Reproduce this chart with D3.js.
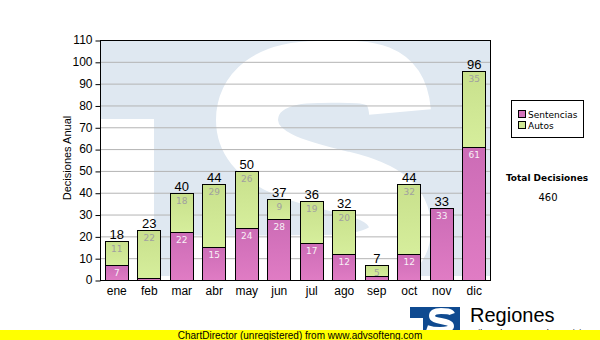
<!DOCTYPE html>
<html><head><meta charset="utf-8">
<script src="https://cdn.jsdelivr.net/npm/d3@7"></script>
<style>body{margin:0;background:#fff}svg{display:block}</style>
</head><body>
<svg id="c" width="600" height="340"></svg>
<script>
const months = ["ene","feb","mar","abr","may","jun","jul","ago","sep","oct","nov","dic"];
const sentencias = [7,1,22,15,24,28,17,12,2,12,33,61];
const autos = [11,22,18,29,26,9,19,20,5,32,0,35];
const yTicks = [0,10,20,30,40,50,60,70,80,90,100,110];
const seriesNames = ["Sentencias","Autos"];

const svg = d3.select("#c");
const L=100,R=490,T=40,B=280;
const x = d3.scaleBand().domain(months).range([L,R]).paddingInner(0.28).paddingOuter(0.14);
const y = d3.scaleLinear().domain([0,110]).range([B,T]);

const defs = svg.append("defs");
function grad(id,c1,c2){
  const g=defs.append("linearGradient").attr("id",id).attr("x1",0).attr("y1",0).attr("x2",0).attr("y2",1);
  g.append("stop").attr("offset","0%").attr("stop-color",c1);
  g.append("stop").attr("offset","100%").attr("stop-color",c2);
}
grad("gP","#cc6cb6","#e07cc4");
grad("gG","#c8e08c","#d6ee9c");
defs.append("clipPath").attr("id","plotclip").append("rect").attr("x",L).attr("y",T).attr("width",R-L).attr("height",B-T);

// watermark (logo drawn as shapes)
const wm = svg.append("g").attr("clip-path","url(#plotclip)");
wm.append("rect").attr("x",L).attr("y",T).attr("width",R-L).attr("height",B-T).attr("fill","#fff");
wm.append("rect").attr("x",L).attr("y",T).attr("width",R-L).attr("height",236).attr("fill","#dfe8f1");
wm.append("rect").attr("x",L).attr("y",119).attr("width",54).attr("height",B-119).attr("fill","#fff");
wm.append("path")
  .attr("d","M 400,112 C 396,66 360,72 318,72 C 268,72 247,94 247,120 C 247,160 300,172 342,182 C 384,192 400,206 400,228 C 400,256 368,266 318,266 C 262,266 224,268 170,266")
  .attr("fill","none").attr("stroke","#fff").attr("stroke-width",62);

// gridlines
svg.append("g").selectAll("line").data(yTicks.filter(d=>d>0&&d<110)).join("line")
  .attr("x1",L).attr("x2",R).attr("y1",d=>y(d)+0.5).attr("y2",d=>y(d)+0.5)
  .attr("stroke","#b4b4b4").attr("stroke-width",1);

// bars
const data = months.map((m,i)=>({m,s:sentencias[i],a:autos[i]}));
const bars = svg.append("g");
data.forEach(d=>{
  const bx = Math.round(x(d.m))+0.5, bw = Math.round(x.bandwidth());
  if(d.s>0) bars.append("rect").attr("x",bx).attr("y",Math.round(y(d.s))+0.5).attr("width",bw)
    .attr("height",Math.round(y(0))-Math.round(y(d.s))).attr("fill","url(#gP)").attr("stroke","#000").attr("stroke-width",1);
  if(d.a>0) bars.append("rect").attr("x",bx).attr("y",Math.round(y(d.s+d.a))+0.5).attr("width",bw)
    .attr("height",Math.round(y(d.s))-Math.round(y(d.s+d.a))).attr("fill","url(#gG)").attr("stroke","#000").attr("stroke-width",1);
});
// inner labels
const lab = svg.append("g").attr("font-family","DejaVu Sans").attr("font-size",9).attr("text-anchor","middle");
data.forEach(d=>{
  const cx = x(d.m)+x.bandwidth()/2+0.5;
  if(d.s>=3) lab.append("text").attr("x",cx).attr("y",y(d.s)+11).attr("fill","#f8f0f6").text(d.s);
  if(d.a>=3) lab.append("text").attr("x",cx).attr("y",y(d.s+d.a)+11).attr("fill","#a0a0a0").text(d.a);
});
// totals
svg.append("g").attr("font-family","Liberation Sans").attr("font-size",13).attr("text-anchor","middle")
  .selectAll("text").data(data).join("text")
  .attr("x",d=>x(d.m)+x.bandwidth()/2+0.5).attr("y",d=>y(d.s+d.a)-2).attr("fill","#000").text(d=>d.s+d.a);

// frame
svg.append("rect").attr("x",L+0.5).attr("y",T+0.5).attr("width",R-L).attr("height",B-T)
  .attr("fill","none").attr("stroke","#000").attr("stroke-width",1);

// y axis
const ya = svg.append("g").attr("transform",`translate(${L+0.5},0)`)
  .call(d3.axisLeft(y).tickValues(yTicks).tickSize(5).tickPadding(3));
ya.select(".domain").remove();
ya.selectAll("line").attr("stroke","#000").attr("transform","translate(0,0.5)");
ya.selectAll("text").attr("font-family","Liberation Sans").attr("font-size",12).attr("fill","#000");

// x axis labels
const xa = svg.append("g").attr("transform",`translate(0.5,${B})`).call(d3.axisBottom(x).tickSize(0).tickPadding(6));
xa.select(".domain").remove();
xa.selectAll("text").attr("font-family","Liberation Sans").attr("font-size",12).attr("fill","#000");

// y title
svg.append("text").attr("transform","translate(71,158) rotate(-90)").attr("text-anchor","middle")
  .attr("font-family","Liberation Sans").attr("font-size",11).attr("fill","#000").text("Decisiones Anual");

// legend
const lg = svg.append("g");
lg.append("rect").attr("x",511.5).attr("y",100.5).attr("width",72).attr("height",37).attr("fill","#fff").attr("stroke","#000");
const lc = ["#d474bc","#d0e894"];
seriesNames.forEach((n,i)=>{
  lg.append("rect").attr("x",518.5).attr("y",110.5+i*11).attr("width",7).attr("height",7).attr("fill",lc[i]).attr("stroke","#000");
  lg.append("text").attr("x",528).attr("y",118+i*11).attr("font-family","DejaVu Sans").attr("font-size",9).attr("fill","#000").text(n);
});
svg.append("text").attr("x",547).attr("y",181).attr("text-anchor","middle").attr("font-family","DejaVu Sans")
  .attr("font-weight","bold").attr("font-size",9).attr("fill","#000").text("Total Decisiones");
svg.append("text").attr("x",548).attr("y",201).attr("text-anchor","middle").attr("font-family","DejaVu Sans")
  .attr("font-size",10).attr("fill","#000").text(d3.sum(sentencias)+d3.sum(autos));

// logo
const lo = svg.append("g");
lo.append("rect").attr("x",410).attr("y",307).attr("width",50).attr("height",25).attr("fill","#0f4a90");
lo.append("rect").attr("x",410).attr("y",318).attr("width",13).attr("height",14).attr("fill","#fff");
lo.append("path")
  .attr("d","M 452,314 C 451,311 446,311 441,311 C 435,311 432,313 432,316 C 432,319 436,320 441,321 C 446,322 451,323 451,326 C 451,329 446,330 440,330 C 434,330 430,329 427,328")
  .attr("fill","none").attr("stroke","#fff").attr("stroke-width",6);
lo.append("text").attr("x",470).attr("y",322).attr("font-family","Liberation Sans").attr("font-size",20).attr("fill","#000").text("Regiones");
lo.append("text").attr("x",470).attr("y",336).attr("font-family","Liberation Sans").attr("font-size",9).attr("fill","#000").text("Tribunal Supremo de Justicia");

// footer
svg.append("rect").attr("x",0).attr("y",330).attr("width",600).attr("height",10).attr("fill","#ffff00");
svg.append("text").attr("x",300).attr("y",338.5).attr("text-anchor","middle").attr("font-family","Liberation Sans")
  .attr("font-size",10).attr("fill","#000").text("ChartDirector (unregistered) from www.advsofteng.com");
</script>
</body></html>
